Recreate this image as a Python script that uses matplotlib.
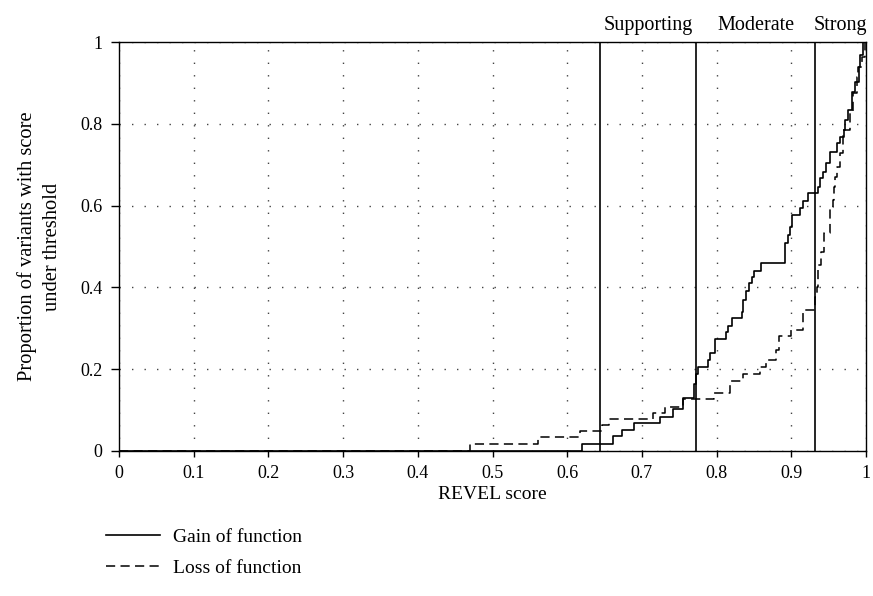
import matplotlib
matplotlib.use("Agg")
import matplotlib.pyplot as plt
import numpy as np

# cumulative proportion of variants under a REVEL score (step curves)
gof_x = [0, 0.620, 0.661, 0.673, 0.690, 0.724, 0.742, 0.755, 0.770, 0.773, 0.775,
         0.789, 0.791, 0.798, 0.812, 0.815, 0.821, 0.834, 0.835, 0.839, 0.843,
         0.847, 0.850, 0.859, 0.891, 0.892, 0.895, 0.898, 0.901, 0.912, 0.915,
         0.923, 0.936, 0.938, 0.942, 0.946, 0.952, 0.961, 0.965, 0.970, 0.972,
         0.976, 0.981, 0.985, 0.990, 0.992, 0.996, 1.0]
gof_y = [0, 0.018, 0.036, 0.052, 0.069, 0.084, 0.102, 0.130, 0.165, 0.188, 0.205,
         0.222, 0.240, 0.274, 0.292, 0.306, 0.324, 0.341, 0.369, 0.392, 0.410,
         0.426, 0.441, 0.459, 0.477, 0.508, 0.528, 0.548, 0.577, 0.593, 0.612,
         0.630, 0.646, 0.667, 0.683, 0.704, 0.732, 0.752, 0.768, 0.785, 0.809,
         0.834, 0.879, 0.903, 0.940, 0.968, 1.0, 1.0]

lof_x = [0, 0.470, 0.561, 0.617, 0.647, 0.656, 0.715, 0.731, 0.755, 0.796, 0.818,
         0.835, 0.858, 0.866, 0.880, 0.884, 0.900, 0.916, 0.932, 0.934, 0.936,
         0.940, 0.944, 0.952, 0.956, 0.957, 0.959, 0.961, 0.965, 0.969, 0.979,
         0.983, 0.988, 0.989, 0.995, 0.999, 1.0]
lof_y = [0, 0.018, 0.033, 0.048, 0.064, 0.078, 0.094, 0.108, 0.126, 0.141, 0.172,
         0.188, 0.205, 0.222, 0.247, 0.281, 0.296, 0.345, 0.377, 0.400, 0.455,
         0.487, 0.533, 0.597, 0.614, 0.645, 0.670, 0.694, 0.728, 0.785, 0.826,
         0.875, 0.914, 0.939, 0.963, 1.0, 1.0]

thresholds = [0.644, 0.773, 0.932]
threshold_labels = ["Supporting", "Moderate", "Strong"]

plt.rcParams['font.family'] = ['Liberation Serif', 'DejaVu Serif']
plt.rcParams['font.size'] = 14

fig = plt.figure(figsize=(8.73, 5.96), dpi=100)
ax = fig.add_axes([0.1363, 0.2433, 0.8557, 0.6862])

ax.step(gof_x, gof_y, where="post", color="black", lw=1.2, label="Gain of function")
ax.step(lof_x, lof_y, where="post", color="black", lw=1.1, ls=(0, (6, 3.5)),
        label="Loss of function")

for t in thresholds:
    ax.axvline(t, color="black", lw=1.2)

# labels centred between the thresholds, above the plot
edges = thresholds + [1.0]
for i, lab in enumerate(threshold_labels):
    xm = (edges[i] + edges[i + 1]) / 2
    ax.annotate(lab, xy=(xm, 1), xycoords=("data", "axes fraction"),
                xytext=(0, 5), textcoords="offset points", ha="center", va="bottom",
                fontsize=14.5)

ax.set_xlim(0, 1)
ax.set_ylim(0, 1)
ax.set_xticks(np.arange(0, 1.01, 0.1))
ax.set_xticklabels(["0", "0.1", "0.2", "0.3", "0.4", "0.5", "0.6", "0.7", "0.8", "0.9", "1"])
ax.set_yticks(np.arange(0, 1.01, 0.2))
ax.set_yticklabels(["0", "0.2", "0.4", "0.6", "0.8", "1"])
ax.tick_params(axis="x", length=4, width=1, pad=6, labelsize=13)
ax.tick_params(axis="y", length=6, width=1, pad=6, labelsize=13)
ax.grid(True, color="#444444", lw=1.0, ls=(0, (1, 8)))
for s in ax.spines.values():
    s.set_linewidth(1.0)

ax.set_xlabel("REVEL score", labelpad=3)
ax.set_ylabel("Proportion of variants with score\nunder threshold", labelpad=13,
              fontsize=14.8, linespacing=1.4)

fig.legend(loc="upper left", bbox_to_anchor=(0.11, 0.13), frameon=False,
           handlelength=2.8, handletextpad=0.65, labelspacing=0.7, borderpad=0)

fig.savefig("out.png", dpi=100)
